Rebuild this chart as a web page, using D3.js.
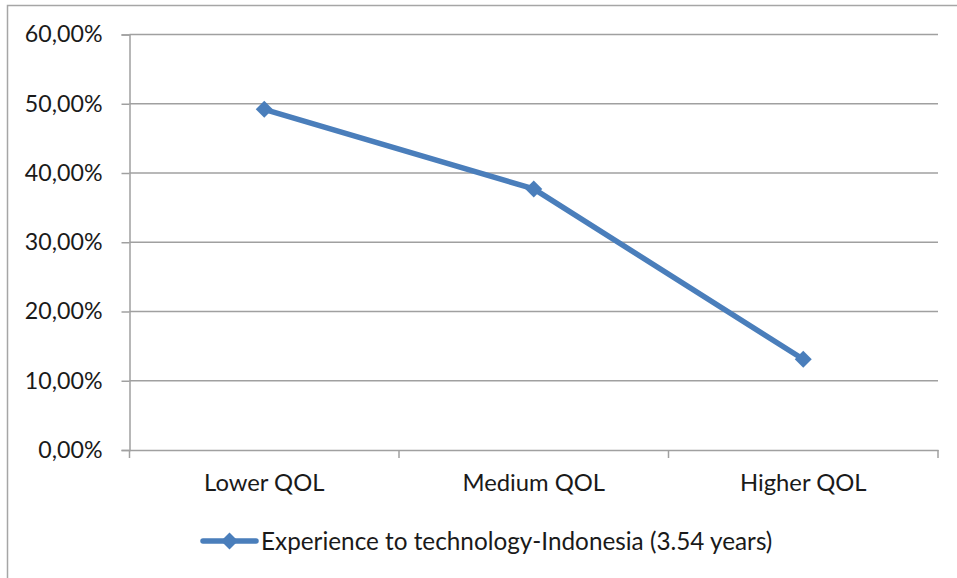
<!DOCTYPE html>
<html><head><meta charset="utf-8">
<script src="https://cdn.jsdelivr.net/npm/d3@7"></script>
<style>body{margin:0;background:#fff}svg{display:block}text{font-family:Lato,"Liberation Sans",Arial,sans-serif;fill:#1a1a1a}</style>
</head><body>
<script>
const categories = ["Lower QOL", "Medium QOL", "Higher QOL"];
const values = [0.492, 0.377, 0.131];
const yTicks = [0, 0.1, 0.2, 0.3, 0.4, 0.5, 0.6];
const seriesName = "Experience to technology-Indonesia (3.54 years)";

const W = 957, H = 578;
const FONT = 'Lato,"Liberation Sans",Arial,sans-serif';
const FS = 23.8;
const svg = d3.select("body").append("svg").attr("width", W).attr("height", H);
svg.append("rect").attr("x", 7.5).attr("y", 5.5).attr("width", 960).attr("height", 600)
  .attr("fill", "#fff").attr("stroke", "#a6a6a6").attr("stroke-width", 1.5);

const L = 129.5, R = 938, T = 34.5, B = 450;
const x = d3.scaleBand().domain(categories).range([L, R]);
const y = d3.scaleLinear().domain([0, 0.6]).range([B, T]);
const fmt = v => (v * 100).toFixed(2).replace(".", ",") + "%";

const grid = svg.append("g");
grid.selectAll("line").data(yTicks.filter(d => d > 0)).join("line")
  .attr("x1", L).attr("x2", R).attr("y1", d => y(d)).attr("y2", d => y(d))
  .attr("stroke", "#a0a0a0").attr("stroke-width", 1.5);

const yAxis = svg.append("g").attr("transform", `translate(${L},0)`)
  .call(d3.axisLeft(y).tickValues(yTicks).tickFormat(fmt).tickSize(8).tickPadding(19));
yAxis.attr("font-family", FONT).attr("font-size", 23.2);
yAxis.select(".domain").attr("stroke", "#a0a0a0").attr("stroke-width", 1.5);
yAxis.selectAll(".tick line").attr("stroke", "#a0a0a0").attr("stroke-width", 1.5);
yAxis.selectAll("text").attr("fill", "#1a1a1a");

const xAxis = svg.append("g").attr("transform", `translate(0,${B})`)
  .call(d3.axisBottom(x).tickSize(0).tickPadding(24));
xAxis.attr("font-family", FONT).attr("font-size", FS);
xAxis.select(".domain").attr("stroke", "#a0a0a0").attr("stroke-width", 1.5);
xAxis.selectAll("text").attr("fill", "#1a1a1a");
// category boundary ticks
const bounds = [L, ...categories.map(c => x(c) + x.bandwidth())];
svg.append("g").selectAll("line").data(bounds).join("line")
  .attr("x1", d => d).attr("x2", d => d).attr("y1", B).attr("y2", B + 8)
  .attr("stroke", "#a0a0a0").attr("stroke-width", 1.5);

const color = "#4a7ebb";
const cx = c => x(c) + x.bandwidth() / 2;
svg.append("path").datum(values)
  .attr("d", d3.line().x((d, i) => cx(categories[i])).y(d => y(d)))
  .attr("fill", "none").attr("stroke", color).attr("stroke-width", 5.5).attr("stroke-linejoin", "round");
const marker = d3.symbol().type(d3.symbolSquare).size(144);
svg.append("g").selectAll("path").data(values).join("path")
  .attr("transform", (d, i) => `translate(${cx(categories[i])},${y(d)}) rotate(45)`)
  .attr("d", marker).attr("fill", color);

// legend
const ly = 541;
svg.append("line").attr("x1", 203).attr("x2", 256).attr("y1", ly).attr("y2", ly)
  .attr("stroke", color).attr("stroke-width", 5.5).attr("stroke-linecap", "round");
svg.append("path").attr("transform", `translate(229.5,${ly}) rotate(45)`)
  .attr("d", marker).attr("fill", color);
svg.append("text").attr("x", 261).attr("y", ly).attr("dy", "0.35em")
  .attr("font-family", FONT).attr("font-size", 24.3).text(seriesName);
</script>
</body></html>
